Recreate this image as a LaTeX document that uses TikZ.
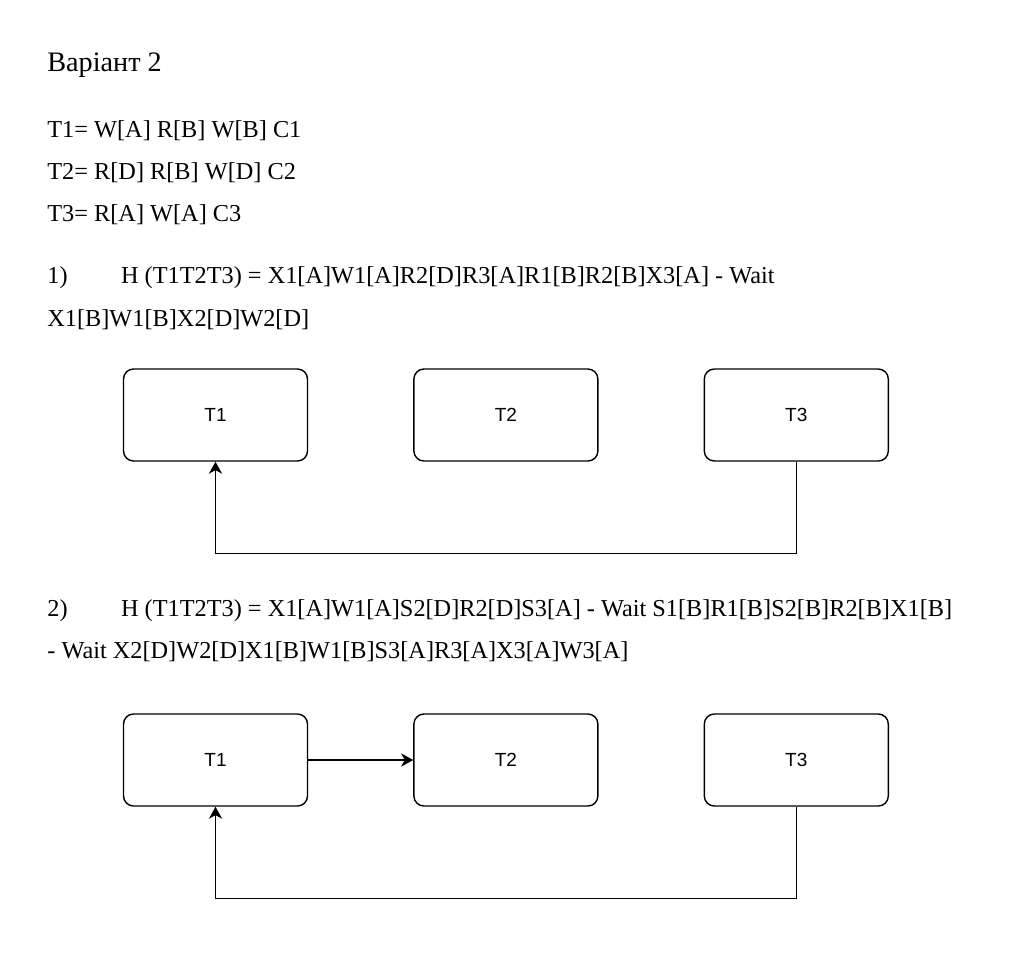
\documentclass[tikz,border=0pt]{standalone}
\usepackage{fontspec}
\setmainfont{Liberation Serif}
\newfontfamily\boxfont{Liberation Sans}
\usetikzlibrary{arrows.meta,positioning}
\newcommand{\widthtx}{92pt}
\newcommand{\heighttx}{46pt}
\tikzset{
    common/.style={anchor=base west, inner sep=0pt},
    line/.style={common, font=\fontsize{12.15}{14}\selectfont},
    head/.style={common, font=\fontsize{14.1}{17}\selectfont},
    tx/.style={draw, rounded corners=5pt, line width=0.7pt, minimum width=\widthtx, minimum height=\heighttx, font=\boxfont\fontsize{9.5}{11}\selectfont},
    link/.style={-{Stealth[length=6pt, width=6.6pt, inset=1.8pt]}, line width=0.75pt}
}
\begin{document}
\begin{tikzpicture}[x=0.5pt, y=-0.5pt, node distance=52.5pt]
    \useasboundingbox (0,0) rectangle (1015,964);

    \node[head] (title) at (47,71) {Варіант 2};
    \node[line] (defA) at (47,137) {T1= W[A] R[B] W[B] C1};
    \node[line] (defB) at (47,179) {T2= R[D] R[B] W[D] C2};
    \node[line] (defC) at (47,221) {T3= R[A] W[A] C3};

    \node[line] (numA) at (47,283) {1)};
    \node[line] (histA) at (120.7,283) {H (T1T2T3) = X1[A]W1[A]R2[D]R3[A]R1[B]R2[B]X3[A] - Wait};
    \node[line] (contA) at (47,326) {X1[B]W1[B]X2[D]W2[D]};

    \node[tx] (T1a) at (215.5,415) {T1};
    \node[tx, right=of T1a] (T2a) {T2};
    \node[tx, right=of T2a] (T3a) {T3};
    \draw[link] (T3a.south) -- ++(0,92) -| (T1a.south);

    \node[line] (numB) at (47,616) {2)};
    \node[line] (histB) at (120.7,616) {H (T1T2T3) = X1[A]W1[A]S2[D]R2[D]S3[A] - Wait S1[B]R1[B]S2[B]R2[B]X1[B]};
    \node[line] (contB) at (47,658) {- Wait X2[D]W2[D]X1[B]W1[B]S3[A]R3[A]X3[A]W3[A]};

    \node[tx] (T1b) at (215.5,760) {T1};
    \node[tx, right=of T1b] (T2b) {T2};
    \node[tx, right=of T2b] (T3b) {T3};
    \draw[link] (T1b) -- (T2b);
    \draw[link] (T3b.south) -- ++(0,92) -| (T1b.south);
\end{tikzpicture}
\end{document}
